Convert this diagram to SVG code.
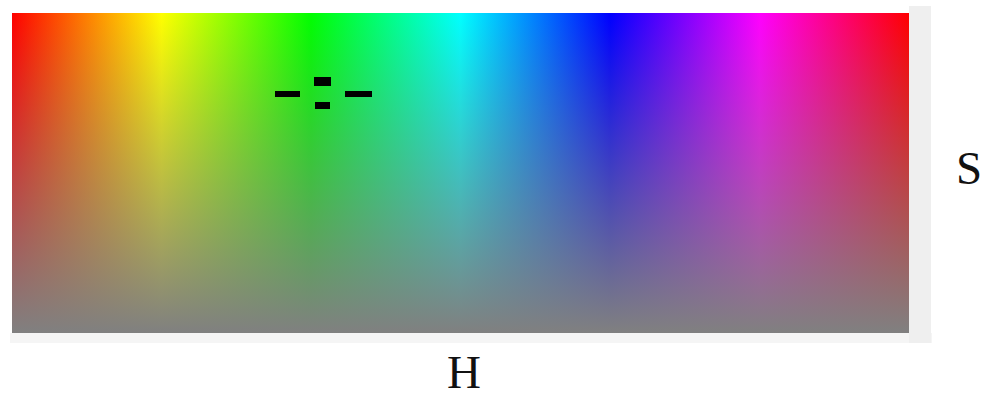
<svg xmlns="http://www.w3.org/2000/svg" width="981" height="398" viewBox="0 0 981 398">
  <defs>
    <linearGradient id="hue" x1="0" y1="0" x2="1" y2="0">
      <stop offset="0" stop-color="#ff0000"/>
      <stop offset="0.1667" stop-color="#ffff00"/>
      <stop offset="0.3333" stop-color="#00ff00"/>
      <stop offset="0.5" stop-color="#00ffff"/>
      <stop offset="0.6667" stop-color="#0000ff"/>
      <stop offset="0.8333" stop-color="#ff00ff"/>
      <stop offset="1" stop-color="#ff0000"/>
    </linearGradient>
    <linearGradient id="sat" x1="0" y1="0" x2="0" y2="1">
      <stop offset="0" stop-color="#808080" stop-opacity="0"/>
      <stop offset="1" stop-color="#808080" stop-opacity="1"/>
    </linearGradient>
  </defs>
  <style>
    .lbl { font-family: "Liberation Serif", "Times New Roman", serif; font-size: 47px; fill: #111; }
    .mark { fill: #000; }
  </style>
  <rect width="981" height="398" fill="#ffffff"/>
  <g id="frame">
    <rect x="10" y="333" width="922" height="10" fill="#f5f5f5"/>
    <rect x="909" y="6" width="22" height="337" fill="#efefef"/>
  </g>
  <g id="picker">
    <rect x="12" y="13" width="897" height="320" fill="url(#hue)"/>
    <rect x="12" y="13" width="897" height="320" fill="url(#sat)"/>
  </g>
  <g id="crosshair">
    <rect class="mark" x="314" y="77" width="17" height="9"/>
    <rect class="mark" x="315" y="102" width="15" height="7"/>
    <rect class="mark" x="275" y="91" width="25" height="6"/>
    <rect class="mark" x="345" y="91" width="27" height="6"/>
  </g>
  <g id="labels">
    <text class="lbl" x="956" y="184">S</text>
    <text class="lbl" x="447" y="388">H</text>
  </g>
</svg>
